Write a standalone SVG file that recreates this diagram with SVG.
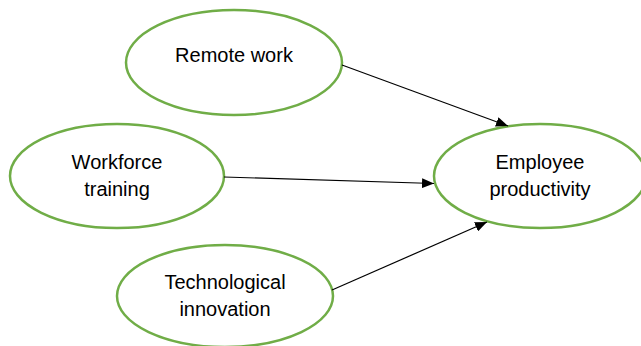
<svg xmlns="http://www.w3.org/2000/svg" width="641" height="346" viewBox="0 0 641 346">
  <defs>
    <marker id="arrow" markerWidth="12" markerHeight="10" refX="12" refY="5" orient="auto" markerUnits="userSpaceOnUse">
      <path d="M0,0 L12,5 L0,10 Z" fill="#000"/>
    </marker>
    <style>
      .node ellipse { fill: #fff; stroke: #70AD47; stroke-width: 2.5; }
      .node text { font-family: "Liberation Sans", Arial, sans-serif; font-size: 20px; fill: #000; text-anchor: middle; }
      .edge { stroke: #000; stroke-width: 1.2; fill: none; marker-end: url(#arrow); }
    </style>
  </defs>
  <rect width="641" height="346" fill="#fff"/>

  <g id="remote-work" class="node">
    <ellipse cx="234" cy="62.5" rx="108" ry="52.5"/>
    <text x="234" y="62">Remote work</text>
  </g>

  <g id="workforce-training" class="node">
    <ellipse cx="117" cy="176" rx="107" ry="52"/>
    <text x="117" y="169">Workforce</text>
    <text x="117" y="196">training</text>
  </g>

  <g id="technological-innovation" class="node">
    <ellipse cx="225" cy="296" rx="108" ry="51"/>
    <text x="225" y="289">Technological</text>
    <text x="225" y="316">innovation</text>
  </g>

  <g id="employee-productivity" class="node">
    <ellipse cx="540" cy="176" rx="106" ry="52"/>
    <text x="540" y="169">Employee</text>
    <text x="540" y="196">productivity</text>
  </g>

  <g id="connectors">
    <line class="edge" x1="342" y1="65" x2="508" y2="126"/>
    <line class="edge" x1="224" y1="177" x2="434" y2="183.5"/>
    <line class="edge" x1="332" y1="290" x2="487" y2="222"/>
  </g>
</svg>
